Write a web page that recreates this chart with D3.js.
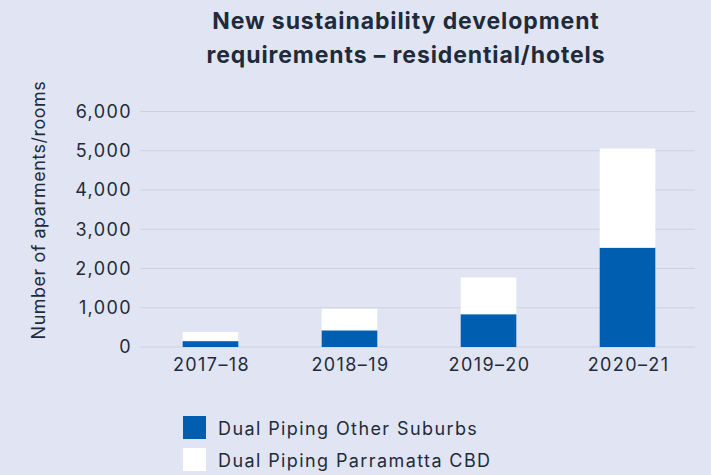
<!DOCTYPE html>
<html><head><meta charset="utf-8">
<script src="https://cdn.jsdelivr.net/npm/d3@7"></script>
<style>
body{margin:0;background:#e1e5f3;}
svg{display:block;font-family:Inter,"Open Sans",sans-serif;}
</style></head>
<body><svg id="c" width="711" height="475"></svg>
<script>
const categories = ["2017–18","2018–19","2019–20","2020–21"];
const otherSuburbs = [150, 425, 835, 2530];
const parramattaCBD = [230, 550, 935, 2525];
const seriesNames = ["Dual Piping Other Suburbs","Dual Piping Parramatta CBD"];
const yTicks = [0,1000,2000,3000,4000,5000,6000];
const titleLines = ["New sustainability development","requirements – residential/hotels"];
const yLabel = "Number of aparments/rooms";

const colors = ["#005eb0","#ffffff"];
const textColor = "#1e2b3a";
const font = "Inter,sans-serif";
const ls = 1.4;
const svg = d3.select("#c");
svg.append("rect").attr("width",711).attr("height",475).attr("fill","#e1e5f3");

const x = d3.scaleBand().domain(categories).range([141,697]).paddingInner(0.6).paddingOuter(0.3);
const y = d3.scaleLinear().domain([0,6000]).range([347,111.5]);

svg.append("g").selectAll("line").data(yTicks).join("line")
  .attr("x1",140).attr("x2",695)
  .attr("y1",d=>y(d)).attr("y2",d=>y(d))
  .attr("stroke","#cdd1dd").attr("stroke-width",1);

const yAxis = d3.axisLeft(y).tickValues(yTicks).tickFormat(d3.format(",")).tickSize(0).tickPadding(0);
const ga = svg.append("g").attr("transform","translate(132,0)").call(yAxis);
ga.select(".domain").remove();
ga.selectAll("text").attr("font-size",18).attr("fill",textColor).attr("font-family",font).attr("letter-spacing",ls);

const xAxis = d3.axisBottom(x).tickSize(0).tickPadding(0);
const gx = svg.append("g").attr("transform","translate(1,358)").call(xAxis);
gx.select(".domain").remove();
gx.selectAll("text").attr("font-size",18).attr("fill",textColor).attr("font-family",font).attr("letter-spacing",ls);

const rows = categories.map((c,i)=>({cat:c, a:otherSuburbs[i], b:parramattaCBD[i]}));
const stack = d3.stack().keys(["a","b"])(rows);
svg.append("g").selectAll("g").data(stack).join("g")
  .attr("fill",(d,i)=>colors[i])
  .selectAll("rect").data(d=>d).join("rect")
  .attr("x",d=>x(d.data.cat)).attr("width",x.bandwidth())
  .attr("y",d=>y(d[1])).attr("height",d=>y(d[0])-y(d[1]));

svg.append("text").attr("x",406).attr("y",29).attr("text-anchor","middle")
  .attr("font-size",23).attr("font-weight",700).attr("fill",textColor).attr("letter-spacing",0.9)
  .selectAll("tspan").data(titleLines).join("tspan")
  .attr("x",406).attr("dy",(d,i)=>i?34:0).text(d=>d);

svg.append("text").attr("transform","translate(45,210) rotate(-90)")
  .attr("text-anchor","middle").attr("font-size",18).attr("fill",textColor).attr("letter-spacing",0.5).text(yLabel);

const lg = svg.append("g").selectAll("g").data(seriesNames).join("g")
  .attr("transform",(d,i)=>`translate(183,${416+i*32})`);
lg.append("rect").attr("width",23).attr("height",23).attr("fill",(d,i)=>colors[i]);
lg.append("text").attr("x",35).attr("y",18.5).attr("font-size",18).attr("fill",textColor).attr("letter-spacing",ls).text(d=>d);
</script></body></html>
